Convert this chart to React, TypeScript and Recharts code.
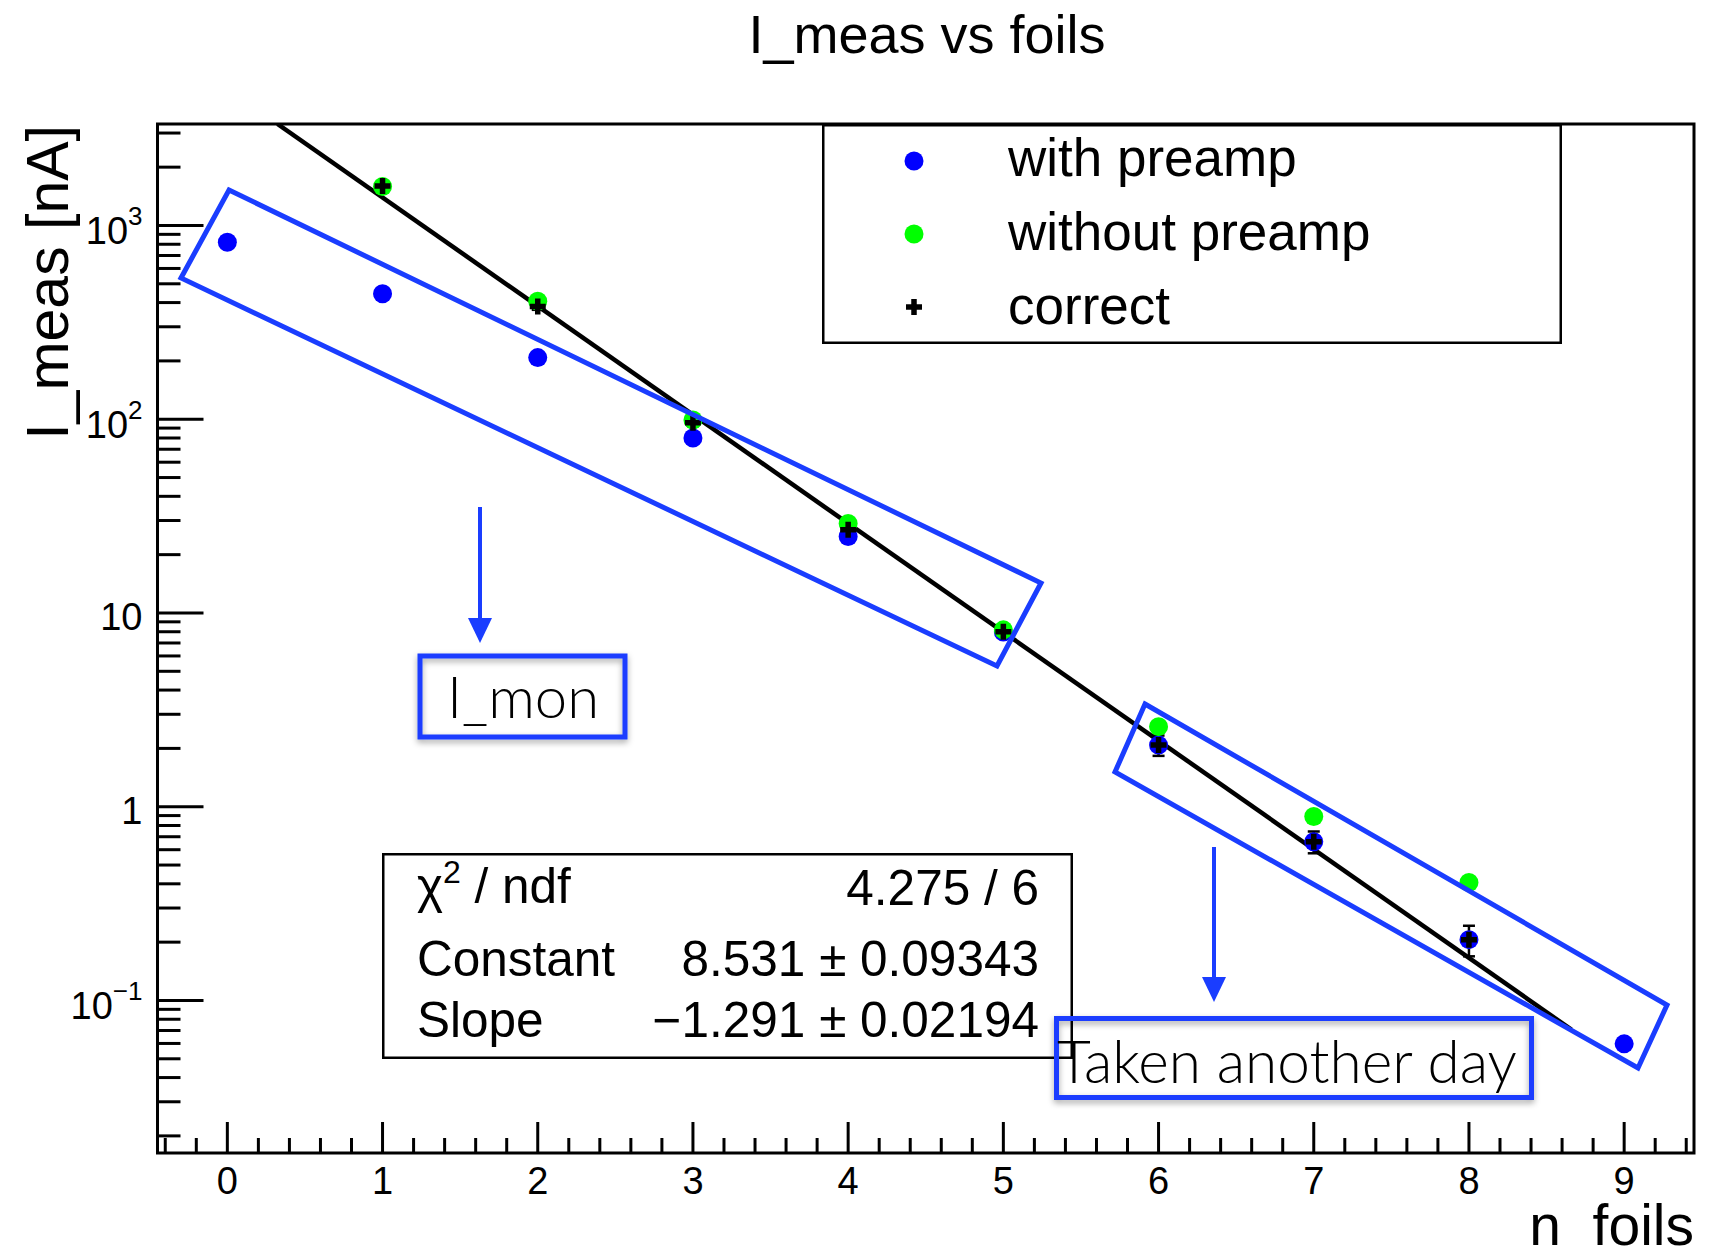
import React from 'react';
import { ScatterChart, Scatter, XAxis, YAxis, ReferenceArea, ErrorBar, Legend } from 'recharts';

// measured currents per number of foils
const foils = [0, 1, 2, 3, 4, 5, 6, 7, 8, 9];
const withPreamp = [820, 444, 208, 80, 24.8, 7.98, 2.08, 0.66, 0.206, 0.0597];

const noPreampFoils = [1, 2, 3, 4, 5, 6, 7, 8];
const withoutPreamp = [1590, 406, 99, 29, 8.18, 2.59, 0.89, 0.406];

const correctFoils = [1, 2, 3, 4, 5, 6, 7, 8];
const correct = [1600, 382, 96, 26.9, 8.0, 2.08, 0.66, 0.206];
const correctErr = [60, 15, 4, 1.2, 0.35, 0.25, 0.085, 0.037];

// expo fit results
const fitConstant = 8.531;
const fitConstantErr = 0.09343;
const fitSlope = -1.291;
const fitSlopeErr = 0.02194;
const chi2 = 4.275;
const ndf = 6;
const fitXmax = 8.66;

const seriesNames = ['with preamp', 'without preamp', 'correct'];

const X_MIN = -0.45;
const X_MAX = 9.45;
const Y_MIN = 0.01632;
const Y_MAX = 3340;

const yMajor = [0.1, 1, 10, 100, 1000];
const yMajorLabels: string[][] = [['10', '\u22121'], ['1'], ['10'], ['10', '2'], ['10', '3']];

const FONT = '"Liberation Sans", Arial, Helvetica, sans-serif';
const LIGHT = 'Lato, "Open Sans", sans-serif';
const BLUE = '#1a3dff';

const xTicks: number[] = [];
for (let i = -2; i <= 47; i++) xTicks.push(Math.round(i * 2) / 10);

const yTicks: number[] = [];
for (let e = -2; e <= 3; e++) {
  for (let m = 1; m <= 9; m++) {
    const v = +(m * Math.pow(10, e)).toPrecision(3);
    if (v >= 0.02 && v <= 3000) yTicks.push(v);
  }
}

const blueData = foils.map((x, i) => ({ x, y: withPreamp[i] }));
const greenData = noPreampFoils.map((x, i) => ({ x, y: withoutPreamp[i] }));
const correctData = correctFoils.map((x, i) => ({ x, y: correct[i], err: correctErr[i] }));

// fit line clipped at the top of the frame
const fitX0 = (fitConstant - Math.log(Y_MAX)) / -fitSlope;
const fitData = [fitX0, fitXmax].map((x) => ({ x, y: Math.exp(fitConstant + fitSlope * x) }));

const XTick = (props: any) => {
  const { x, y, payload } = props;
  const v = payload.value;
  const major = Math.abs(v - Math.round(v)) < 1e-6;
  return (
    <g>
      <line x1={x} x2={x} y1={y} y2={y - (major ? 31 : 15)} stroke="#000" strokeWidth={3} />
      {major && (
        <text x={x} y={y + 41} textAnchor="middle" fontSize={38} fontFamily={FONT} fill="#000">
          {Math.round(v)}
        </text>
      )}
    </g>
  );
};

const YTick = (props: any) => {
  const { x, y, payload } = props;
  const v = payload.value;
  const idx = yMajor.findIndex((m) => Math.abs(m - v) / m < 1e-6);
  const major = idx >= 0;
  const lab = major ? yMajorLabels[idx] : null;
  return (
    <g>
      <line x1={x} x2={x + (major ? 46 : 23)} y1={y} y2={y} stroke="#000" strokeWidth={3} />
      {lab && (
        <text x={x - 15} y={y + (lab.length > 1 ? 19 : 17)} textAnchor="end" fontSize={38} fontFamily={FONT} fill="#000">
          {lab[0]}
          {lab.length > 1 && (
            <tspan fontSize={26} dy={-19}>
              {lab[1]}
            </tspan>
          )}
        </text>
      )}
    </g>
  );
};

const dot = (color: string) => (p: any) => <circle cx={p.cx} cy={p.cy} r={9.5} fill={color} />;
const plus = (p: any) => (
  <path d={`M${p.cx - 8},${p.cy}H${p.cx + 8}M${p.cx},${p.cy - 8}V${p.cy + 8}`} stroke="#000" strokeWidth={5.5} />
);
const noShape = () => <g />;

const LegendBox = () => {
  const rows = [
    (cx: number, cy: number) => <circle cx={cx} cy={cy} r={9.5} fill="#0000ff" />,
    (cx: number, cy: number) => <circle cx={cx} cy={cy} r={9.5} fill="#00ff00" />,
    (cx: number, cy: number) => plus({ cx, cy }),
  ];
  return (
    <svg width={740} height={220} style={{ display: 'block' }}>
      <rect x={1.25} y={1.25} width={737.5} height={217.5} fill="#fff" stroke="#000" strokeWidth={2.5} />
      {seriesNames.map((name, i) => (
        <g key={name}>
          {rows[i](92, 37 + i * 73)}
          <text x={186} y={52 + i * 74} fontSize={53} fontFamily={FONT} fill="#000">
            {name}
          </text>
        </g>
      ))}
    </svg>
  );
};

const fmtMinus = (v: number) => (v < 0 ? '\u2212' + Math.abs(v) : String(v));

const StatsBox = () => (
  <svg width={691} height={206} style={{ position: 'absolute', left: 382, top: 853 }}>
    <rect x={1.25} y={1.25} width={688.5} height={203.5} fill="#fff" stroke="#000" strokeWidth={2.5} />
    <g fontFamily={FONT} fontSize={49.5} fill="#000">
      <text x={35} y={50}>
        {'\u03c7'}
        <tspan fontSize={32} dy={-20}>2</tspan>
        <tspan dy={20}>{' / ndf'}</tspan>
      </text>
      <text x={657} y={52} textAnchor="end">{`${chi2} / ${ndf}`}</text>
      <text x={35} y={123}>Constant</text>
      <text x={657} y={123} textAnchor="end">{`${fitConstant} \u00b1 ${fitConstantErr}`}</text>
      <text x={35} y={184}>Slope</text>
      <text x={657} y={184} textAnchor="end">{`${fmtMinus(fitSlope)} \u00b1 ${fitSlopeErr}`}</text>
    </g>
  </svg>
);

const Arrow = ({ x, y0, y1 }: { x: number; y0: number; y1: number }) => (
  <g>
    <line x1={x} x2={x} y1={y0} y2={y1 - 22} stroke={BLUE} strokeWidth={4} />
    <polygon points={`${x - 12},${y1 - 25} ${x + 12},${y1 - 25} ${x},${y1}`} fill={BLUE} />
  </g>
);

const Annotations = () => (
  <svg width={1721} height={1258} style={{ position: 'absolute', left: 0, top: 0, pointerEvents: 'none' }}>
    <defs>
      <filter id="sh" x="-10%" y="-20%" width="120%" height="150%">
        <feDropShadow dx="0" dy="3" stdDeviation="3" floodColor="#000" floodOpacity="0.35" />
      </filter>
    </defs>
    <text x={927} y={53} textAnchor="middle" fontSize={54} fontFamily={FONT} fill="#000">
      I_meas vs foils
    </text>
    <text transform="translate(68,125) rotate(-90)" textAnchor="end" fontSize={59} fontFamily={FONT} fill="#000">
      I_meas [nA]
    </text>
    <text x={1694} y={1245} textAnchor="end" fontSize={57} fontFamily={FONT} fill="#000" style={{ whiteSpace: 'pre' }}>
      {'n  foils'}
    </text>

    <polygon points="229,190 1041,583 997,666 181,278" fill="none" stroke={BLUE} strokeWidth={5} />
    <polygon points="1145,704 1667,1005 1638,1068 1115,772" fill="none" stroke={BLUE} strokeWidth={5} />

    <Arrow x={480} y0={507} y1={643} />
    <Arrow x={1214} y0={847} y1={1002} />

    <rect x={420} y={656} width={205} height={81} fill="none" stroke={BLUE} strokeWidth={5} filter="url(#sh)" />
    <text x={523} y={718} textAnchor="middle" fontSize={58} fontWeight={300} fontFamily={LIGHT} fill="#000">
      I_mon
    </text>

    <rect x={1056.5} y={1018.5} width={475} height={79} fill="none" stroke={BLUE} strokeWidth={5} filter="url(#sh)" />
    <text x={1057} y={1083} fontSize={58.5} fontWeight={300} fontFamily={LIGHT} fill="#000">
      Taken another day
    </text>
  </svg>
);

export default function App() {
  return (
    <div style={{ position: 'absolute', left: 0, top: 0, width: 1721, height: 1258, background: '#fff', overflow: 'hidden' }}>
      <ScatterChart width={1721} height={1258} margin={{ top: 124, right: 27, bottom: 45, left: 0 }}>
        <XAxis
          type="number"
          dataKey="x"
          domain={[X_MIN, X_MAX]}
          ticks={xTicks}
          interval={0}
          tickSize={0}
          tickMargin={0}
          tick={XTick}
          tickLine={false}
          axisLine={false}
          allowDataOverflow
          height={60}
        />
        <YAxis
          type="number"
          dataKey="y"
          scale="log"
          domain={[Y_MIN, Y_MAX]}
          ticks={yTicks}
          interval={0}
          tickSize={0}
          tickMargin={0}
          tick={YTick}
          tickLine={false}
          axisLine={false}
          allowDataOverflow
          width={157.5}
        />
        <ReferenceArea x1={X_MIN} x2={X_MAX} y1={Y_MIN} y2={Y_MAX} fill="none" stroke="#000" strokeWidth={3} fillOpacity={0} />
        <Scatter
          name="fit"
          data={fitData}
          stroke="#000"
          strokeWidth={4.5}
          line={{ stroke: '#000', strokeWidth: 4.5 }}
          shape={noShape}
          legendType="none"
          isAnimationActive={false}
        />
        <Scatter name={seriesNames[0]} data={blueData} shape={dot('#0000ff')} isAnimationActive={false} />
        <Scatter name={seriesNames[1]} data={greenData} shape={dot('#00ff00')} isAnimationActive={false} />
        <Scatter name={seriesNames[2]} data={correctData} shape={plus} isAnimationActive={false}>
          <ErrorBar dataKey="err" direction="y" width={6} stroke="#000" strokeWidth={2.5} />
        </Scatter>
        <Legend
          layout="horizontal"
          verticalAlign="middle"
          align="center"
          wrapperStyle={{ left: 822, top: 124, width: 740, height: 220 }}
          content={() => <LegendBox />}
        />
      </ScatterChart>
      <StatsBox />
      <Annotations />
    </div>
  );
}
